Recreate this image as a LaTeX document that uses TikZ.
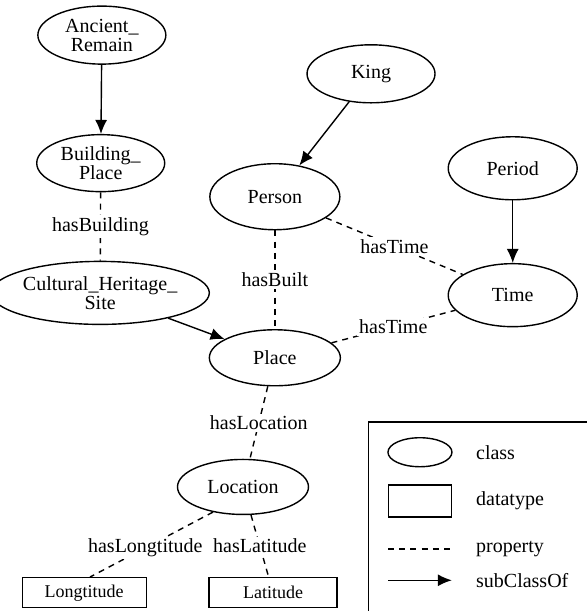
\documentclass[tikz,border=0pt]{standalone}
\usepackage{fontspec}
\setmainfont{Liberation Serif}
\usepackage{tikz}
\usetikzlibrary{arrows.meta,shapes.geometric}
\tikzset{
  classnode/.style={draw, ellipse, align=center, inner sep=0pt, minimum width=64pt, minimum height=29pt, line width=0.7pt, font=\fontsize{10}{9.5}\selectfont},
  datanode/.style={draw, rectangle, align=center, inner sep=0pt, minimum width=63pt, minimum height=15pt, line width=0.7pt, font=\fontsize{9}{10}\selectfont},
  propline/.style={dash pattern=on 3pt off 2.6pt, line width=0.7pt},
  subclassarrow/.style={-{Latex[length=7pt,width=6pt]}, line width=0.7pt},
  proplabel/.style={fill=white, inner sep=1pt, font=\fontsize{10}{11}\selectfont},
  legendtext/.style={anchor=west, inner sep=0pt, font=\fontsize{10}{11}\selectfont}
}
\begin{document}
\begin{tikzpicture}
\useasboundingbox (0,0) rectangle (10.315,10.737);
% classes
\node[classnode] (ancient) at (1.79,10.12) {Ancient\_\\Remain};
\node[classnode, minimum height=28.5pt] (building) at (1.77,7.87) {Building\_\\Place};
\node[classnode, minimum width=95pt, minimum height=31.5pt] (cultural) at (1.76,5.59) {Cultural\_Heritage\_\\Site};
\node[classnode] (king) at (6.52,9.44) {King};
\node[classnode, minimum width=65pt, minimum height=33pt] (person) at (4.83,7.28) {Person};
\node[classnode, minimum width=64.5pt, minimum height=31.5pt] (period) at (9.01,7.78) {Period};
\node[classnode, minimum width=64.5pt, minimum height=31.5pt] (time) at (9.01,5.55) {Time};
\node[classnode, minimum width=65.5pt, minimum height=28pt] (place) at (4.83,4.45) {Place};
\node[classnode, minimum width=65.5pt, minimum height=27.5pt] (location) at (4.27,2.18) {Location};
% datatypes
\node[datanode, minimum width=62pt] (longtitude) at (1.48,0.32) {Longtitude};
\node[datanode, minimum width=64pt] (latitude) at (4.80,0.32) {Latitude};
% subClassOf
\draw[subclassarrow] (ancient) -- (building);
\draw[subclassarrow] (king) -- (person);
\draw[subclassarrow] (period) -- (time);
\draw[subclassarrow] (cultural) -- (place);
% properties
\draw[propline] (building) -- node[proplabel] {hasBuilding} (cultural);
\draw[propline] (person) -- node[proplabel] {hasBuilt} (place);
\draw[propline] (person) -- node[proplabel] {hasTime} (time);
\draw[propline] (place) -- node[proplabel] {hasTime} (time);
\draw[propline] (place) -- node[proplabel] {hasLocation} (location);
\draw[propline] (location.220) -- node[proplabel, pos=0.55] {hasLongtitude} (longtitude.70);
\draw[propline] (location) -- node[proplabel] {hasLatitude} (latitude);
% legend
\draw[line width=0.7pt] (10.32,3.32) -- (6.48,3.32) -- (6.48,0);
\node[classnode, minimum width=32pt, minimum height=14.5pt] (legclass) at (7.38,2.79) {};
\node[datanode, minimum width=31.5pt, minimum height=16pt] (legdata) at (7.38,1.93) {};
\coordinate (legpropA) at (6.82,1.09);
\coordinate (legpropB) at (7.94,1.09);
\coordinate (legsubA) at (6.82,0.54);
\coordinate (legsubB) at (7.94,0.54);
\draw[propline] (legpropA) -- (legpropB);
\draw[subclassarrow] (legsubA) -- (legsubB);
\node[legendtext] (legclasstext) at (8.36,2.79) {class};
\node[legendtext] (legdatatext) at (8.36,1.93) {datatype};
\node[legendtext] (legproptext) at (8.36,1.09) {property};
\node[legendtext] (legsubtext) at (8.36,0.54) {subClassOf};
\end{tikzpicture}
\end{document}
